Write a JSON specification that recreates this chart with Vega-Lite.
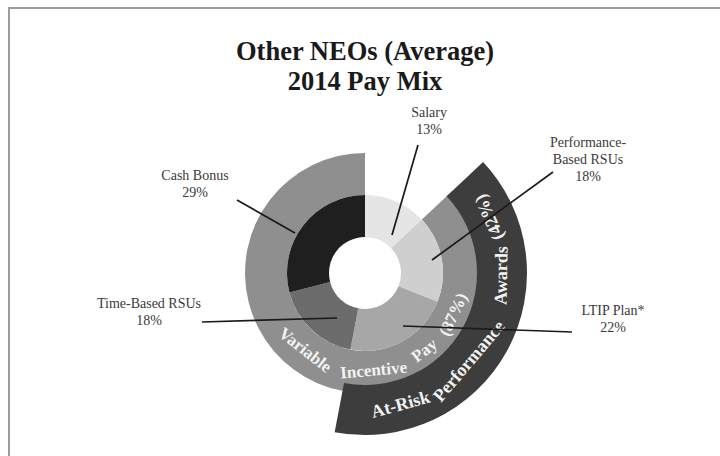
{
  "$schema": "https://vega.github.io/schema/vega-lite/v6.json",
  "width": 712,
  "height": 530,
  "autosize": {"type": "none"},
  "padding": {"left": 9, "top": 8, "right": 0, "bottom": 0},
  "background": "white",
  "title": {
    "text": ["Other NEOs (Average)", "2014 Pay Mix"],
    "font": "Liberation Serif",
    "fontSize": 26.5,
    "fontWeight": "bold",
    "color": "#1a1a1a",
    "anchor": "middle",
    "frame": "group",
    "baseline": "alphabetic",
    "lineHeight": 30,
    "offset": -108
  },
  "config": {"view": {"stroke": "#9c9c9c", "strokeWidth": 2}},
  "datasets": {
    "pay": [
      {"item": "Salary", "pct": 13, "order": 1},
      {"item": "Performance-Based RSUs", "pct": 18, "order": 2},
      {"item": "LTIP Plan*", "pct": 22, "order": 3},
      {"item": "Time-Based RSUs", "pct": 18, "order": 4},
      {"item": "Cash Bonus", "pct": 29, "order": 5}
    ],
    "groups": [
      {"group": "Variable Incentive Pay", "pct": 87, "start": 13, "end": 100},
      {"group": "At-Risk Performance Awards", "pct": 42, "start": 13, "end": 53}
    ],
    "curved": [
      {"band": "Variable Incentive Pay", "word": "Variable", "t": 60.5},
      {"band": "Variable Incentive Pay", "word": "Incentive", "t": 48.6},
      {"band": "Variable Incentive Pay", "word": "Pay", "t": 39.6},
      {"band": "Variable Incentive Pay", "word": "(87%)", "t": 32.0},
      {"band": "At-Risk Performance Awards", "word": "At-Risk", "t": 45.8},
      {"band": "At-Risk Performance Awards", "word": "Performance", "t": 36.2},
      {"band": "At-Risk Performance Awards", "word": "Awards", "t": 25.3},
      {"band": "At-Risk Performance Awards", "word": "(42%)", "t": 18.3}
    ],
    "labels": [
      {"item": "Salary", "label": "Salary\n13%", "lx": 64, "ly": -160, "x1": 53, "y1": -128, "x2": 27, "y2": -38},
      {"item": "Performance-Based RSUs", "label": "Performance-\nBased RSUs\n18%", "lx": 223, "ly": -130, "x1": 188, "y1": -101, "x2": 67, "y2": -13},
      {"item": "LTIP Plan*", "label": "LTIP Plan*\n22%", "lx": 248, "ly": 38, "x1": 38, "y1": 53, "x2": 207, "y2": 59},
      {"item": "Time-Based RSUs", "label": "Time-Based RSUs\n18%", "lx": -216, "ly": 31, "x1": -163, "y1": 49, "x2": -28, "y2": 45},
      {"item": "Cash Bonus", "label": "Cash Bonus\n29%", "lx": -170, "ly": -97, "x1": -128, "y1": -73, "x2": -70, "y2": -40}
    ]
  },
  "layer": [
    {
      "data": {"name": "groups"},
      "transform": [{"filter": "datum.group == 'Variable Incentive Pay'"}],
      "mark": {"type": "arc", "radius": 120, "radius2": 78, "fill": "#8f8f8f"},
      "encoding": {
        "theta": {"field": "start", "type": "quantitative", "scale": {"domain": [0, 100]}},
        "theta2": {"field": "end"}
      }
    },
    {
      "data": {"name": "pay"},
      "mark": {"type": "arc", "radius": 78, "radius2": 36},
      "encoding": {
        "theta": {"field": "pct", "type": "quantitative", "stack": true, "scale": {"domain": [0, 100]}},
        "order": {"field": "order", "type": "quantitative"},
        "color": {
          "field": "item",
          "type": "nominal",
          "legend": null,
          "scale": {
            "domain": ["Salary", "Performance-Based RSUs", "LTIP Plan*", "Time-Based RSUs", "Cash Bonus"],
            "range": ["#e5e5e5", "#cfcfcf", "#a7a7a7", "#6c6c6c", "#1f1f1f"]
          }
        }
      }
    },
    {
      "data": {"name": "groups"},
      "transform": [{"filter": "datum.group == 'At-Risk Performance Awards'"}],
      "mark": {"type": "arc", "radius": 162, "radius2": 112, "fill": "#3d3d3d"},
      "encoding": {
        "theta": {"field": "start", "type": "quantitative", "scale": {"domain": [0, 100]}},
        "theta2": {"field": "end"}
      }
    },
    {
      "data": {"name": "curved"},
      "transform": [
        {"filter": "datum.band == 'Variable Incentive Pay'"},
        {"calculate": "datum.t * 3.6 - 180", "as": "rot"}
      ],
      "mark": {"type": "text", "radius": 98, "font": "Liberation Serif", "fontSize": 17, "fontWeight": "bold", "fill": "#f2f2f2", "align": "center", "baseline": "middle"},
      "encoding": {
        "theta": {"field": "t", "type": "quantitative", "scale": {"domain": [0, 100]}},
        "angle": {"field": "rot", "type": "quantitative", "scale": null},
        "text": {"field": "word"}
      }
    },
    {
      "data": {"name": "curved"},
      "transform": [
        {"filter": "datum.band == 'At-Risk Performance Awards'"},
        {"calculate": "datum.t * 3.6 - 180", "as": "rot"}
      ],
      "mark": {"type": "text", "radius": 137, "font": "Liberation Serif", "fontSize": 18, "fontWeight": "bold", "fill": "#f2f2f2", "align": "center", "baseline": "middle"},
      "encoding": {
        "theta": {"field": "t", "type": "quantitative", "scale": {"domain": [0, 100]}},
        "angle": {"field": "rot", "type": "quantitative", "scale": null},
        "text": {"field": "word"}
      }
    },
    {
      "data": {"name": "labels"},
      "mark": {"type": "text", "font": "Liberation Serif", "fontSize": 14, "fill": "#3a3a3a", "align": "center", "baseline": "middle", "lineBreak": "\n", "lineHeight": 17},
      "encoding": {
        "x": {"field": "lx", "type": "quantitative", "axis": null, "scale": {"domain": [-356, 356]}},
        "y": {"field": "ly", "type": "quantitative", "axis": null, "scale": {"domain": [-265, 265], "reverse": true}},
        "text": {"field": "label"}
      }
    },
    {
      "data": {"name": "labels"},
      "mark": {"type": "rule", "stroke": "#1a1a1a", "strokeWidth": 1.7},
      "encoding": {
        "x": {"field": "x1", "type": "quantitative", "axis": null, "scale": {"domain": [-356, 356]}},
        "y": {"field": "y1", "type": "quantitative", "axis": null, "scale": {"domain": [-265, 265], "reverse": true}},
        "x2": {"field": "x2"},
        "y2": {"field": "y2"}
      }
    }
  ]
}
